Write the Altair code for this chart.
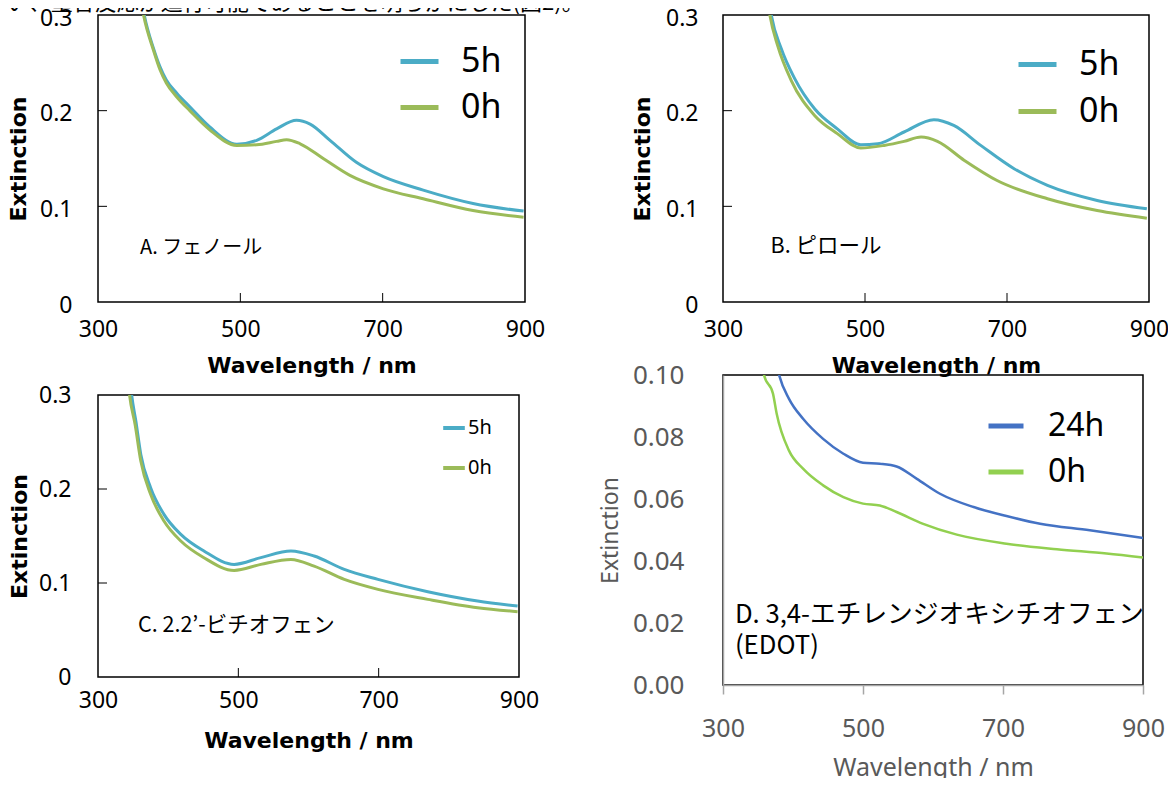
import altair as alt
import pandas as pd

TOP_TEXT = "い、重合反応が進行可能であることを明らかにした(図2)。"

X_TICKS = [300, 500, 700, 900]
INNER_X_TICKS = [500, 700]
Y_TICKS_ABC = [0, 0.1, 0.2, 0.3]
INNER_Y_TICKS_ABC = [0.1, 0.2]
Y_TICKS_D = [0, 0.02, 0.04, 0.06, 0.08, 0.10]

# ---- Panel A : phenol ----
A_SERIES = ["5h", "0h"]
A_5h_wl = [358, 365, 378, 387, 396, 411, 429, 457, 495, 523, 551, 579, 598, 626, 663, 701, 757, 827, 898]
A_5h_ext = [0.33, 0.30, 0.265, 0.246, 0.232, 0.218, 0.204, 0.183, 0.165, 0.169, 0.181, 0.190, 0.186, 0.169, 0.146, 0.131, 0.117, 0.103, 0.095]
A_0h_wl = [357, 364, 378, 387, 396, 411, 429, 457, 495, 523, 551, 565, 584, 617, 654, 701, 757, 827, 898]
A_0h_ext = [0.33, 0.30, 0.263, 0.243, 0.229, 0.214, 0.200, 0.180, 0.1637, 0.1644, 0.1679, 0.1696, 0.1654, 0.1497, 0.1323, 0.1183, 0.1079, 0.0956, 0.0887]
A_LABEL = ["A. フェノール"]
A_LABEL_WL = [359]
A_LABEL_EXT = [0.0565]

# ---- Panel B : pyrrole ----
B_SERIES = ["5h", "0h"]
B_5h_wl = [362, 368, 382, 401, 429, 461, 494, 518, 555, 597, 625, 663, 710, 757, 827, 897]
B_5h_ext = [0.33, 0.30, 0.265, 0.2335, 0.202, 0.181, 0.1644, 0.1654, 0.1777, 0.1906, 0.1846, 0.1637, 0.1393, 0.1218, 0.1061, 0.0974]
B_0h_wl = [360, 366, 377, 396, 429, 461, 494, 527, 555, 579, 602, 640, 686, 757, 827, 897]
B_0h_ext = [0.33, 0.30, 0.268, 0.2317, 0.195, 0.176, 0.161, 0.1637, 0.1679, 0.1724, 0.1679, 0.148, 0.127, 0.1079, 0.0956, 0.0876]
B_LABEL = ["B. ピロール"]
B_LABEL_WL = [367]
B_LABEL_EXT = [0.0572]

# ---- Panel C : 2,2'-bithiophene ----
C_SERIES = ["5h", "0h"]
C_5h_wl = [344, 348, 354, 361, 375, 394, 418, 451, 494, 532, 575, 608, 651, 699, 770, 841, 898]
C_5h_ext = [0.33, 0.30, 0.272, 0.2368, 0.2014, 0.173, 0.1517, 0.134, 0.1198, 0.127, 0.134, 0.1287, 0.1145, 0.1038, 0.0907, 0.0808, 0.0755]
C_0h_wl = [341, 345, 353, 361, 375, 394, 418, 451, 494, 532, 575, 608, 651, 699, 770, 841, 898]
C_0h_ext = [0.33, 0.30, 0.268, 0.2298, 0.1943, 0.166, 0.1447, 0.1269, 0.1134, 0.1198, 0.1251, 0.118, 0.1038, 0.0932, 0.0826, 0.0737, 0.0695]
C_LABEL = ["C. 2.2’-ビチオフェン"]
C_LABEL_WL = [357]
C_LABEL_EXT = [0.0543]

# ---- Panel D : EDOT ----
D_SERIES = ["24h", "0h"]
D_24h_wl = [376, 380.4, 394.3, 414.7, 443, 472, 500, 524, 548, 577, 610, 658, 705, 753, 824, 900]
D_24h_ext = [0.104, 0.0998, 0.0923, 0.0858, 0.0794, 0.0746, 0.0717, 0.0714, 0.0705, 0.0665, 0.0617, 0.0574, 0.0545, 0.052, 0.0499, 0.0474]
D_0h_wl = [355, 358.6, 371.4, 376.7, 394.3, 414.7, 443, 472, 500, 524, 548, 586, 634, 705, 777, 848, 900]
D_0h_ext = [0.104, 0.100, 0.094, 0.0875, 0.0756, 0.0697, 0.0644, 0.0606, 0.0585, 0.0579, 0.0558, 0.052, 0.0485, 0.0456, 0.0438, 0.0424, 0.0411]
D_LABEL = ["D. 3,4-エチレンジオキシチオフェン", "(EDOT)"]
D_LABEL_WL = [317, 317]
D_LABEL_EXT = [0.0225, 0.01255]

ABC_COLORS = ["#4BACC6", "#9BBB59"]
D_COLORS = ["#4472C4", "#92D050"]

LABEL_FONT = "Noto Sans"
TITLE_FONT = "DejaVu Sans"
JP_FONT = "Noto Sans CJK JP"
GREY = "#595959"
AXIS_GREY = "#A6A6A6"


def series_df(pairs):
    rows = []
    for name, wls, exts in pairs:
        for w, e in zip(wls, exts):
            rows.append({"wl": w, "ext": e, "series": name})
    return pd.DataFrame(rows)


def label_df(texts, wls, exts):
    return pd.DataFrame({"label": texts, "wl": wls, "ext": exts})


def abc_panel(df, series, ann, w, h, ylp, ytp, ylo, xlp, xtp, leg, ann_size, title=None):
    xs = alt.Scale(domain=[300, 900], nice=False, zero=False)
    ys = alt.Scale(domain=[0, 0.3], nice=False, zero=False)
    xax = alt.Axis(values=X_TICKS, title="Wavelength / nm", grid=False, domain=False, ticks=False,
                   labelFont=LABEL_FONT, labelFontSize=23, labelColor="black", labelPadding=xlp,
                   labelFlush=False, labelOverlap=False,
                   titleFont=TITLE_FONT, titleFontSize=22, titleFontWeight="bold",
                   titleColor="black", titlePadding=xtp)
    yax = alt.Axis(values=Y_TICKS_ABC, title="Extinction", grid=False, domain=False, ticks=False,
                   labelExpr="datum.value == 0 ? '0' : format(datum.value, '.1f')",
                   labelFont=LABEL_FONT, labelFontSize=23, labelColor="black", labelPadding=ylp,
                   labelOffset=ylo, labelOverlap=False,
                   titleFont=TITLE_FONT, titleFontSize=22, titleFontWeight="bold",
                   titleColor="black", titlePadding=ytp)
    color = alt.Color("series:N", scale=alt.Scale(domain=series, range=ABC_COLORS),
                      legend=alt.Legend(orient="none", title=None, symbolType="stroke",
                                        labelFont=LABEL_FONT, labelColor="black", labelLimit=0,
                                        **leg))
    lines = alt.Chart(df).mark_line(strokeWidth=3, clip=True, interpolate="monotone").encode(
        x=alt.X("wl:Q", scale=xs, axis=xax),
        y=alt.Y("ext:Q", scale=ys, axis=yax),
        color=color,
    )
    xt = alt.Chart(pd.DataFrame({"wl": INNER_X_TICKS})).mark_rule(color="black", strokeWidth=1).encode(
        x="wl:Q", y=alt.value(h), y2=alt.value(h - 9))
    yt = alt.Chart(pd.DataFrame({"ext": INNER_Y_TICKS_ABC})).mark_rule(color="black", strokeWidth=1).encode(
        y="ext:Q", x=alt.value(0), x2=alt.value(9))
    txt = alt.Chart(ann).mark_text(align="left", baseline="middle", font=JP_FONT,
                                   fontSize=ann_size, color="black").encode(
        x="wl:Q", y="ext:Q", text="label:N")
    props = dict(width=w, height=h)
    if title is not None:
        props["title"] = title
    return alt.layer(lines, xt, yt, txt).properties(**props)


dfA = series_df([("5h", A_5h_wl, A_5h_ext), ("0h", A_0h_wl, A_0h_ext)])
dfB = series_df([("5h", B_5h_wl, B_5h_ext), ("0h", B_0h_wl, B_0h_ext)])
dfC = series_df([("5h", C_5h_wl, C_5h_ext), ("0h", C_0h_wl, C_0h_ext)])
dfD = series_df([("24h", D_24h_wl, D_24h_ext), ("0h", D_0h_wl, D_0h_ext)])

panelA = abc_panel(dfA, A_SERIES, label_df(A_LABEL, A_LABEL_WL, A_LABEL_EXT), 427, 287,
                   ylp=26, ytp=9, ylo=3, xlp=16, xtp=14,
                   leg=dict(legendX=300, legendY=25, symbolSize=1444, symbolStrokeWidth=5,
                            labelFontSize=34, labelOffset=20, rowPadding=7),
                   ann_size=20)
panelB = abc_panel(dfB, B_SERIES, label_df(B_LABEL, B_LABEL_WL, B_LABEL_EXT), 426, 287,
                   ylp=25, ytp=11, ylo=3, xlp=16, xtp=14,
                   leg=dict(legendX=293, legendY=28, symbolSize=1444, symbolStrokeWidth=5,
                            labelFontSize=34, labelOffset=20, rowPadding=8),
                   ann_size=21.5)
panelC = abc_panel(dfC, C_SERIES, label_df(C_LABEL, C_LABEL_WL, C_LABEL_EXT), 421, 282,
                   ylp=27, ytp=7, ylo=0, xlp=12, xtp=18,
                   leg=dict(legendX=343, legendY=20, symbolSize=467, symbolStrokeWidth=4,
                            labelFontSize=20, labelOffset=1, rowPadding=17),
                   ann_size=21.5,
                   title=alt.TitleParams(" ", fontSize=10, offset=12))

# ---- Panel D ----
xsD = alt.Scale(domain=[300, 900], nice=False, zero=False)
ysD = alt.Scale(domain=[0, 0.1], nice=False, zero=False)
xaxD = alt.Axis(values=X_TICKS, title="Wavelength / nm", grid=False, domain=True, domainColor=AXIS_GREY,
                domainWidth=1.5, ticks=True, tickSize=9, tickColor=AXIS_GREY, tickWidth=1.5,
                labelFont=LABEL_FONT, labelFontSize=25, labelColor=GREY, labelPadding=22,
                labelFlush=False, labelOverlap=False,
                titleFont=LABEL_FONT, titleFontSize=25, titleFontWeight="normal", titleColor=GREY,
                titlePadding=14)
yaxD = alt.Axis(values=Y_TICKS_D, format=".2f", title="Extinction", grid=False, domain=True,
                domainColor=AXIS_GREY, domainWidth=1.5, ticks=False,
                labelFont=LABEL_FONT, labelFontSize=26, labelColor=GREY, labelPadding=39,
                labelOverlap=False,
                titleFont=LABEL_FONT, titleFontSize=23, titleFontWeight="normal", titleColor=GREY,
                titlePadding=10)
colorD = alt.Color("series:N", scale=alt.Scale(domain=D_SERIES, range=D_COLORS),
                   legend=alt.Legend(orient="none", title=None, symbolType="stroke",
                                     legendX=263, legendY=31, symbolSize=1225, symbolStrokeWidth=5,
                                     labelFont=LABEL_FONT, labelFontSize=32, labelColor="black",
                                     labelOffset=22, rowPadding=10, labelLimit=0))
linesD = alt.Chart(dfD).mark_line(strokeWidth=2.5, clip=True, interpolate="monotone").encode(
    x=alt.X("wl:Q", scale=xsD, axis=xaxD),
    y=alt.Y("ext:Q", scale=ysD, axis=yaxD),
    color=colorD,
)
txtD = alt.Chart(label_df(D_LABEL, D_LABEL_WL, D_LABEL_EXT)).mark_text(
    align="left", baseline="middle", font=JP_FONT, fontSize=25.7, color="black").encode(
    x="wl:Q", y="ext:Q", text="label:N")
panelD = alt.layer(linesD, txtD).properties(width=420, height=310)

chart = alt.concat(
    panelA, panelB, panelC, panelD,
    columns=2,
    spacing={"row": -16, "column": 52},
    align={"row": "none", "column": "each"},
).resolve_scale(
    x="independent", y="independent", color="independent"
).properties(
    title=alt.TitleParams(TOP_TEXT, anchor="start", font=JP_FONT, fontSize=22,
                          fontWeight="normal", color="black", offset=-9),
    padding={"top": -16, "left": -2, "right": -2, "bottom": -3},
).configure_view(stroke="black", strokeWidth=1.5)

chart.save("out.html", embed_options={"renderer": "svg", "actions": False})
